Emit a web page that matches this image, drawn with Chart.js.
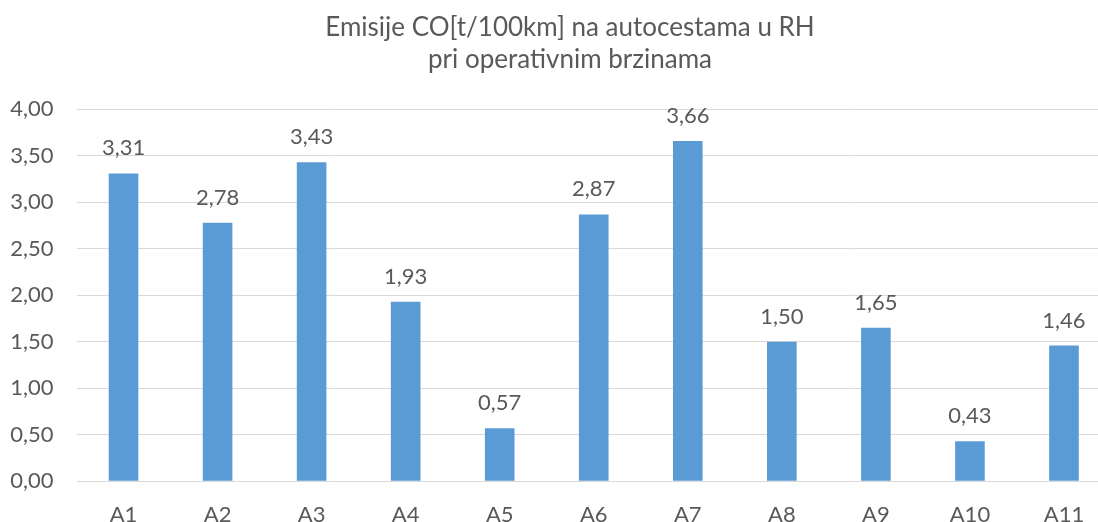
<!DOCTYPE html>
<html>
<head>
<meta charset="utf-8">
<script src="https://cdn.jsdelivr.net/npm/chart.js@4/dist/chart.umd.min.js"></script>
<style>
  html, body { margin: 0; padding: 0; background: #fff; overflow: hidden; }
  #wrap { position: relative; width: 1111px; height: 522px; }
</style>
</head>
<body>
<div id="wrap"><canvas id="emisije"></canvas></div>
<script>
const categories = ['A1', 'A2', 'A3', 'A4', 'A5', 'A6', 'A7', 'A8', 'A9', 'A10', 'A11'];
const coValues = [3.31, 2.78, 3.43, 1.93, 0.57, 2.87, 3.66, 1.50, 1.65, 0.43, 1.46];
const titleLines = ['Emisije CO[t/100km] na autocestama u RH', 'pri operativnim brzinama'];

const textColor = '#595959';
const fontName = 'Lato, "Open Sans", sans-serif';
const fmt = v => Number(v).toFixed(2).replace('.', ',');

// value labels above bars
const barLabels = {
    id: 'barLabels',
    afterDatasetsDraw(chart) {
        const ctx = chart.ctx;
        ctx.save();
        ctx.font = '22px ' + fontName;
        ctx.fillStyle = textColor;
        ctx.textAlign = 'center';
        ctx.textBaseline = 'alphabetic';
        chart.getDatasetMeta(0).data.forEach((bar, i) => {
            ctx.fillText(fmt(coValues[i]), bar.x, bar.y - 18);
        });
        ctx.restore();
    }
};

// two-line title, centred a bit left of the plot centre like the original
const chartTitle = {
    id: 'chartTitle',
    afterDraw(chart) {
        const ctx = chart.ctx;
        ctx.save();
        ctx.font = '26px ' + fontName;
        ctx.fillStyle = textColor;
        ctx.textAlign = 'center';
        ctx.textBaseline = 'alphabetic';
        titleLines.forEach((line, i) => ctx.fillText(line, 570, 36 + i * 32));
        ctx.restore();
    }
};

new Chart(document.getElementById('emisije'), {
    type: 'bar',
    data: {
        labels: categories,
        datasets: [{
            label: 'CO',
            data: coValues,
            backgroundColor: '#5B9BD5',
            borderWidth: 0,
            barPercentage: 0.315,
            categoryPercentage: 1
        }]
    },
    options: {
        responsive: true,
        maintainAspectRatio: false,
        animation: false,
        layout: { padding: { left: 0, right: 0, top: 109.3, bottom: 0 } },
        plugins: {
            legend: { display: false },
            tooltip: { enabled: false },
            title: { display: false }
        },
        scales: {
            x: {
                grid: { display: false },
                border: { display: false },
                ticks: { color: textColor, font: { family: fontName, size: 22 }, padding: 12 },
                afterFit(scale) { scale.height = 40.7; }
            },
            y: {
                min: 0,
                max: 4,
                ticks: {
                    stepSize: 0.5,
                    color: textColor,
                    font: { family: fontName, size: 22 },
                    padding: 23,
                    callback: v => fmt(v)
                },
                grid: { color: '#D9D9D9', lineWidth: 1, drawTicks: false },
                border: { display: false },
                afterFit(scale) { scale.width = 76.5; }
            }
        }
    },
    plugins: [barLabels, chartTitle]
});
</script>
</body>
</html>
